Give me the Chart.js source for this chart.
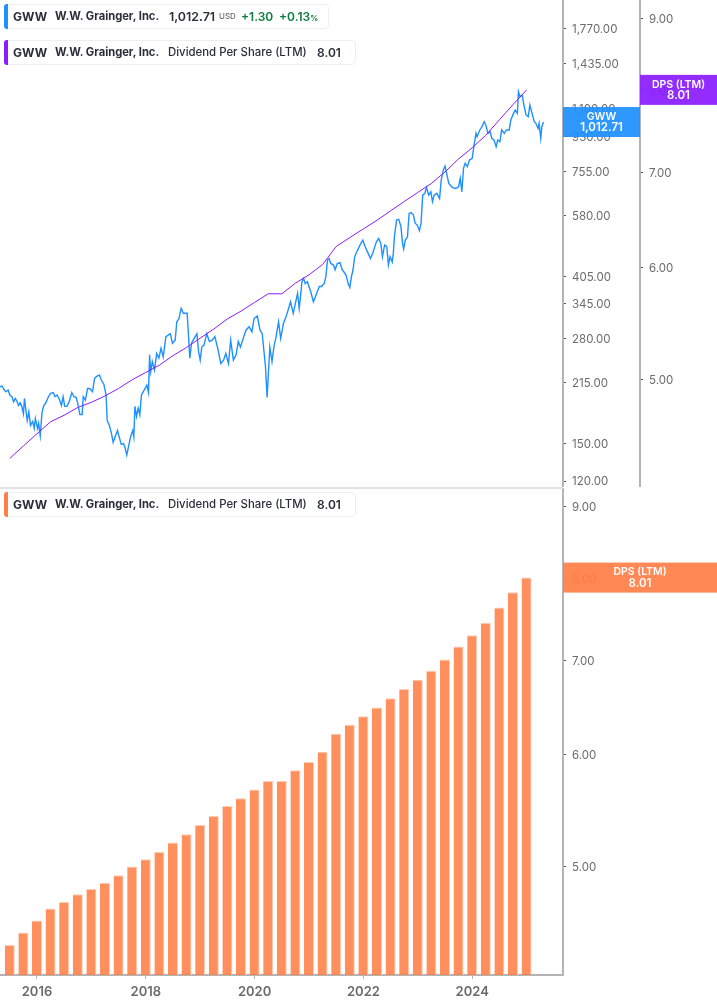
<!DOCTYPE html>
<html>
<head>
<meta charset="utf-8">
<style>
html, body { margin: 0; padding: 0; background: #fff; }
body { width: 717px; height: 1005px; position: relative; overflow: hidden; font-family: Inter, "Noto Sans", sans-serif; }
canvas { position: absolute; left: 0; }
#priceChart { top: 0; }
#dpsChart { top: 488px; }
.sep { position: absolute; left: 0; top: 487px; width: 563px; height: 2px; background: #e2e2e2; }
.legend { position: absolute; left: 4px; height: 25px; box-sizing: border-box; background: #fff; border: 1px solid #eeeeee; border-radius: 4px; font-size: 12px; font-weight: 700; color: #2a2e39; }
.legend i { position: absolute; left: -1px; top: -1px; bottom: -1px; width: 4px; border-radius: 3px 0 0 3px; }
.legend span { position: absolute; top: 4px; line-height: 15px; white-space: nowrap; }
.legend .name { font-size: 11.2px; }
.legend .reg { font-weight: 500; font-size: 11.4px; }
.legend .num { font-size: 12.4px; font-weight: 600; }
.legend .up { color: #0f7b3f; font-weight: 600; }
.legend .tiny { font-size: 8px; font-weight: 500; color: #6b6b6b; }
</style>
</head>
<body>
<canvas id="priceChart" width="717" height="487" style="width:717px;height:487px"></canvas>
<canvas id="dpsChart" width="717" height="517" style="width:717px;height:517px"></canvas>
<div class="sep"></div>

<div class="legend" style="top:4px;width:325px">
  <i style="background:#1e90ff"></i>
  <span style="left:8px">GWW</span><span class="name" style="left:50px">W.W. Grainger, Inc.</span>
  <span class="num" style="left:164px">1,012.71</span><span class="tiny" style="left:214px">USD</span>
  <span class="up" style="left:236px">+1.30</span><span class="up" style="left:274px">+0.13<small style="font-size:8px">%</small></span>
</div>
<div class="legend" style="top:40px;width:352px">
  <i style="background:#8a1cff"></i>
  <span style="left:8px">GWW</span><span class="name" style="left:50px">W.W. Grainger, Inc.</span>
  <span class="reg" style="left:163px">Dividend Per Share (LTM)</span><span class="num" style="left:312px;font-size:12px">8.01</span>
</div>
<div class="legend" style="top:492px;width:352px">
  <i style="background:#ff7f47"></i>
  <span style="left:8px">GWW</span><span class="name" style="left:50px">W.W. Grainger, Inc.</span>
  <span class="reg" style="left:163px">Dividend Per Share (LTM)</span><span class="num" style="left:312px;font-size:12px">8.01</span>
</div>

<script src="https://cdn.jsdelivr.net/npm/chart.js@4/dist/chart.umd.js"></script>
<script>
// share price (decimal years / USD)
const priceDates = [
  2015.32, 2015.36, 2015.39, 2015.43, 2015.47, 2015.50, 2015.54, 2015.57, 2015.60, 2015.63, 2015.66, 2015.69,
  2015.72, 2015.75, 2015.77, 2015.80, 2015.82, 2015.85, 2015.88, 2015.92, 2015.95, 2015.97, 2016.01, 2016.03,
  2016.06, 2016.09, 2016.12, 2016.17, 2016.21, 2016.25, 2016.30, 2016.33, 2016.37, 2016.41, 2016.45, 2016.48,
  2016.51, 2016.55, 2016.59, 2016.64, 2016.68, 2016.72, 2016.75, 2016.79, 2016.83, 2016.85, 2016.89, 2016.93,
  2016.97, 2017.02, 2017.06, 2017.11, 2017.15, 2017.18, 2017.23, 2017.27, 2017.29, 2017.33, 2017.37, 2017.40,
  2017.45, 2017.48, 2017.51, 2017.55, 2017.59, 2017.62, 2017.65, 2017.69, 2017.72, 2017.76, 2017.78, 2017.80,
  2017.83, 2017.86, 2017.89, 2017.92, 2017.97, 2018.02, 2018.05, 2018.07, 2018.09, 2018.12, 2018.16, 2018.20,
  2018.24, 2018.28, 2018.32, 2018.37, 2018.45, 2018.49, 2018.54, 2018.57, 2018.61, 2018.65, 2018.69, 2018.76,
  2018.79, 2018.81, 2018.84, 2018.89, 2018.94, 2018.97, 2019.00, 2019.03, 2019.07, 2019.12, 2019.17, 2019.22,
  2019.27, 2019.33, 2019.38, 2019.43, 2019.47, 2019.52, 2019.56, 2019.61, 2019.66, 2019.70, 2019.74, 2019.79,
  2019.84, 2019.90, 2019.95, 2019.99, 2020.05, 2020.10, 2020.14, 2020.17, 2020.20, 2020.23, 2020.25, 2020.28,
  2020.32, 2020.36, 2020.39, 2020.44, 2020.48, 2020.53, 2020.59, 2020.66, 2020.71, 2020.79, 2020.82, 2020.85,
  2020.87, 2020.90, 2020.93, 2020.97, 2021.01, 2021.04, 2021.08, 2021.12, 2021.15, 2021.19, 2021.23, 2021.28,
  2021.31, 2021.34, 2021.37, 2021.40, 2021.45, 2021.48, 2021.52, 2021.57, 2021.61, 2021.64, 2021.68, 2021.72,
  2021.75, 2021.78, 2021.81, 2021.84, 2021.88, 2021.91, 2021.95, 2021.99, 2022.02, 2022.06, 2022.10, 2022.13,
  2022.17, 2022.21, 2022.24, 2022.28, 2022.32, 2022.35, 2022.39, 2022.43, 2022.46, 2022.49, 2022.53, 2022.55,
  2022.57, 2022.61, 2022.65, 2022.69, 2022.72, 2022.74, 2022.77, 2022.81, 2022.84, 2022.88, 2022.92, 2022.95,
  2022.99, 2023.03, 2023.06, 2023.09, 2023.13, 2023.16, 2023.20, 2023.24, 2023.27, 2023.30, 2023.35, 2023.40,
  2023.43, 2023.47, 2023.50, 2023.53, 2023.57, 2023.62, 2023.67, 2023.71, 2023.75, 2023.78, 2023.81, 2023.84,
  2023.87, 2023.91, 2023.95, 2024.00, 2024.03, 2024.07, 2024.09, 2024.14, 2024.18, 2024.22, 2024.25, 2024.29,
  2024.33, 2024.36, 2024.40, 2024.44, 2024.47, 2024.51, 2024.54, 2024.59, 2024.63, 2024.68, 2024.71, 2024.76,
  2024.79, 2024.83, 2024.85, 2024.88, 2024.92, 2024.95, 2024.99, 2025.03, 2025.06, 2025.10, 2025.14, 2025.17,
  2025.21, 2025.23, 2025.26, 2025.28, 2025.31
];
const priceValues = [
  210, 211, 207, 204, 206, 200, 198, 192, 196, 193, 188, 191,
  187, 179, 196, 181, 172, 181, 167, 171, 164, 174, 164, 169,
  157, 179, 187, 192, 198, 202, 203, 198, 200, 195, 188, 198,
  187, 187, 192, 203, 198, 197, 190, 178, 178, 198, 194, 208,
  208, 204, 221, 224, 225, 219, 213, 200, 172, 167, 159, 151,
  158, 162, 156, 149, 150, 146, 140, 149, 156, 162, 156, 187,
  176, 185, 178, 200, 206, 212, 203, 254, 230, 244, 232, 256,
  249, 264, 251, 283, 288, 272, 277, 309, 315, 335, 325, 325,
  277, 249, 272, 280, 288, 259, 246, 266, 269, 288, 275, 277,
  283, 261, 241, 246, 256, 241, 277, 246, 254, 275, 266, 280,
  294, 300, 291, 315, 320, 294, 288, 261, 237, 197, 223, 266,
  244, 269, 280, 309, 280, 306, 322, 348, 325, 366, 335, 366,
  392, 400, 388, 392, 377, 366, 348, 359, 369, 381, 381, 388,
  404, 446, 450, 437, 433, 421, 437, 439, 421, 416, 408, 388,
  379, 404, 421, 455, 469, 478, 492, 502, 488, 473, 460, 450,
  464, 483, 497, 507, 492, 455, 488, 483, 433, 455, 441, 464,
  512, 566, 568, 544, 492, 476, 502, 512, 588, 591, 583, 555,
  549, 531, 555, 656, 663, 687, 656, 669, 631, 656, 663, 643,
  717, 762, 780, 746, 703, 690, 683, 683, 690, 725, 669, 769,
  792, 777, 808, 816, 875, 947, 928, 966, 985, 1015, 995, 947,
  956, 919, 910, 875, 910, 901, 966, 947, 966, 966, 1025, 1066,
  1087, 1066, 1213, 1177, 1189, 1120, 1056, 1045, 1120, 1066, 1015, 1005,
  975, 1005, 919, 985, 1012.71
];

// dividend per share, last twelve months, one value per quarter
const dpsDates = [
  2015.50, 2015.75, 2016.00, 2016.25, 2016.50, 2016.75, 2017.00, 2017.25, 2017.50, 2017.75,
  2018.00, 2018.25, 2018.50, 2018.75, 2019.00, 2019.25, 2019.50, 2019.75, 2020.00, 2020.25,
  2020.50, 2020.75, 2021.00, 2021.25, 2021.50, 2021.75, 2022.00, 2022.25, 2022.50, 2022.75,
  2023.00, 2023.25, 2023.50, 2023.75, 2024.00, 2024.25, 2024.50, 2024.75, 2025.00
];
const dpsValues = [
  4.40, 4.49, 4.58, 4.67, 4.72, 4.78, 4.82, 4.87, 4.93, 5.00,
  5.06, 5.12, 5.20, 5.27, 5.35, 5.43, 5.52, 5.59, 5.67, 5.75,
  5.75, 5.85, 5.93, 6.03, 6.21, 6.30, 6.39, 6.48, 6.58, 6.68,
  6.78, 6.88, 7.01, 7.16, 7.29, 7.44, 7.63, 7.82, 8.01
];

const priceTicks = [1770, 1435, 1100, 930, 755, 580, 405, 345, 280, 215, 150, 120];
const dpsTicks = [9, 8, 7, 6, 5];
const yearTicks = [2016, 2018, 2020, 2022, 2024];

const lastPrice = 1012.71;
const lastDps = 8.01;

const BLUE = '#1e90ff';
const PURPLE = '#8a1cff';
const ORANGE = '#ff7f47';
const AXIS = '#b4b4b4';
const TICK_TEXT = '#6b6b6b';
const X_MIN = 2015.32;
const X_MAX = 2025.669;
const FONT = 'Inter, "Noto Sans", sans-serif';

function pairs(xs, ys) {
    return xs.map((x, i) => ({ x: x, y: ys[i] }));
}

function priceFormat(v) {
    return v.toLocaleString('en-US', { minimumFractionDigits: 2, maximumFractionDigits: 2 });
}

function logAxis(ticks, min, max, width) {
    return {
        type: 'logarithmic',
        position: 'right',
        min: min,
        max: max,
        afterBuildTicks: axis => { axis.ticks = ticks.map(v => ({ value: v })); },
        afterFit: axis => {
            axis.width = width;
            // no room for half a label above and below the plot
            axis.paddingTop = 0;
            axis.paddingBottom = 0;
        },
        border: { color: AXIS, width: 2 },
        grid: { drawOnChartArea: false, tickLength: 3, tickColor: '#555555', tickWidth: 1 },
        ticks: {
            autoSkip: false,
            maxRotation: 0,
            padding: 6,
            labelOffset: 1,
            color: TICK_TEXT,
            font: { family: FONT, size: 11.5 },
            callback: v => priceFormat(v)
        }
    };
}

// the coloured last-value boxes that sit on the right axes
function boxPlugin(boxes) {
    return {
        id: 'lastValueBoxes',
        afterDraw(chart) {
            const ctx = chart.ctx;
            boxes.forEach(b => {
                const axis = chart.scales[b.axis];
                const y = axis.getPixelForValue(b.value);
                const cx = axis.left + axis.width / 2;
                ctx.save();
                ctx.globalAlpha = 0.93;
                ctx.fillStyle = b.color;
                ctx.fillRect(axis.left, y - 15, axis.width, 30);
                ctx.globalAlpha = 1;
                ctx.fillStyle = '#ffffff';
                ctx.textAlign = 'center';
                ctx.textBaseline = 'middle';
                ctx.font = '600 10.5px ' + FONT;
                ctx.fillText(b.title, cx, y - 5.5);
                ctx.font = '600 11.5px ' + FONT;
                ctx.fillText(b.text, cx, y + 5.5);
                ctx.restore();
            });
        }
    };
}

new Chart(document.getElementById('priceChart'), {
    type: 'line',
    data: {
        datasets: [
            {
                label: 'GWW',
                data: pairs(priceDates, priceValues),
                yAxisID: 'yPrice',
                borderColor: BLUE,
                borderWidth: 1.4,
                pointRadius: 0,
                tension: 0,
                order: 2
            },
            {
                label: 'Dividend Per Share (LTM)',
                data: pairs(dpsDates, dpsValues),
                yAxisID: 'yDps',
                borderColor: PURPLE,
                borderWidth: 1,
                pointRadius: 0,
                tension: 0,
                order: 1
            }
        ]
    },
    options: {
        responsive: false,
        animation: false,
        devicePixelRatio: 1,
        layout: { padding: 0 },
        plugins: { legend: { display: false }, tooltip: { enabled: false } },
        scales: {
            x: { type: 'linear', min: X_MIN, max: X_MAX, display: false },
            yPrice: logAxis(priceTicks, 115.8, 2091, 77),
            yDps: logAxis(dpsTicks, 4.2, 9.27, 77)
        }
    },
    plugins: [boxPlugin([
        { axis: 'yPrice', value: lastPrice, color: BLUE, title: 'GWW', text: priceFormat(lastPrice) },
        { axis: 'yDps', value: lastDps, color: PURPLE, title: 'DPS (LTM)', text: lastDps.toFixed(2) }
    ])]
});

new Chart(document.getElementById('dpsChart'), {
    type: 'bar',
    data: {
        datasets: [{
            label: 'Dividend Per Share (LTM)',
            data: pairs(dpsDates, dpsValues),
            yAxisID: 'yDps',
            backgroundColor: 'rgba(255, 127, 71, 0.88)',
            borderColor: 'rgba(255, 205, 184, 1)',
            borderWidth: { top: 1, right: 1 },
            barThickness: 10,
            inflateAmount: 0
        }]
    },
    options: {
        responsive: false,
        animation: false,
        devicePixelRatio: 1,
        layout: { padding: 0 },
        plugins: { legend: { display: false }, tooltip: { enabled: false } },
        scales: {
            x: {
                type: 'linear',
                offset: false,
                min: X_MIN,
                max: X_MAX,
                afterBuildTicks: axis => { axis.ticks = yearTicks.map(v => ({ value: v })); },
                afterFit: axis => {
                    axis.height = 30;
                    axis.paddingLeft = 0;
                    axis.paddingRight = 0;
                },
                border: { color: AXIS, width: 2 },
                grid: { drawOnChartArea: false, offset: false, tickLength: 4, tickColor: AXIS, tickWidth: 1 },
                ticks: {
                    autoSkip: false,
                    maxRotation: 0,
                    padding: 5,
                    color: TICK_TEXT,
                    font: { family: FONT, size: 13, weight: '600' },
                    callback: v => String(v)
                }
            },
            yDps: logAxis(dpsTicks, 4.19, 9.27, 154)
        }
    },
    plugins: [boxPlugin([
        { axis: 'yDps', value: lastDps, color: ORANGE, title: 'DPS (LTM)', text: lastDps.toFixed(2) }
    ])]
});
</script>
</body>
</html>
